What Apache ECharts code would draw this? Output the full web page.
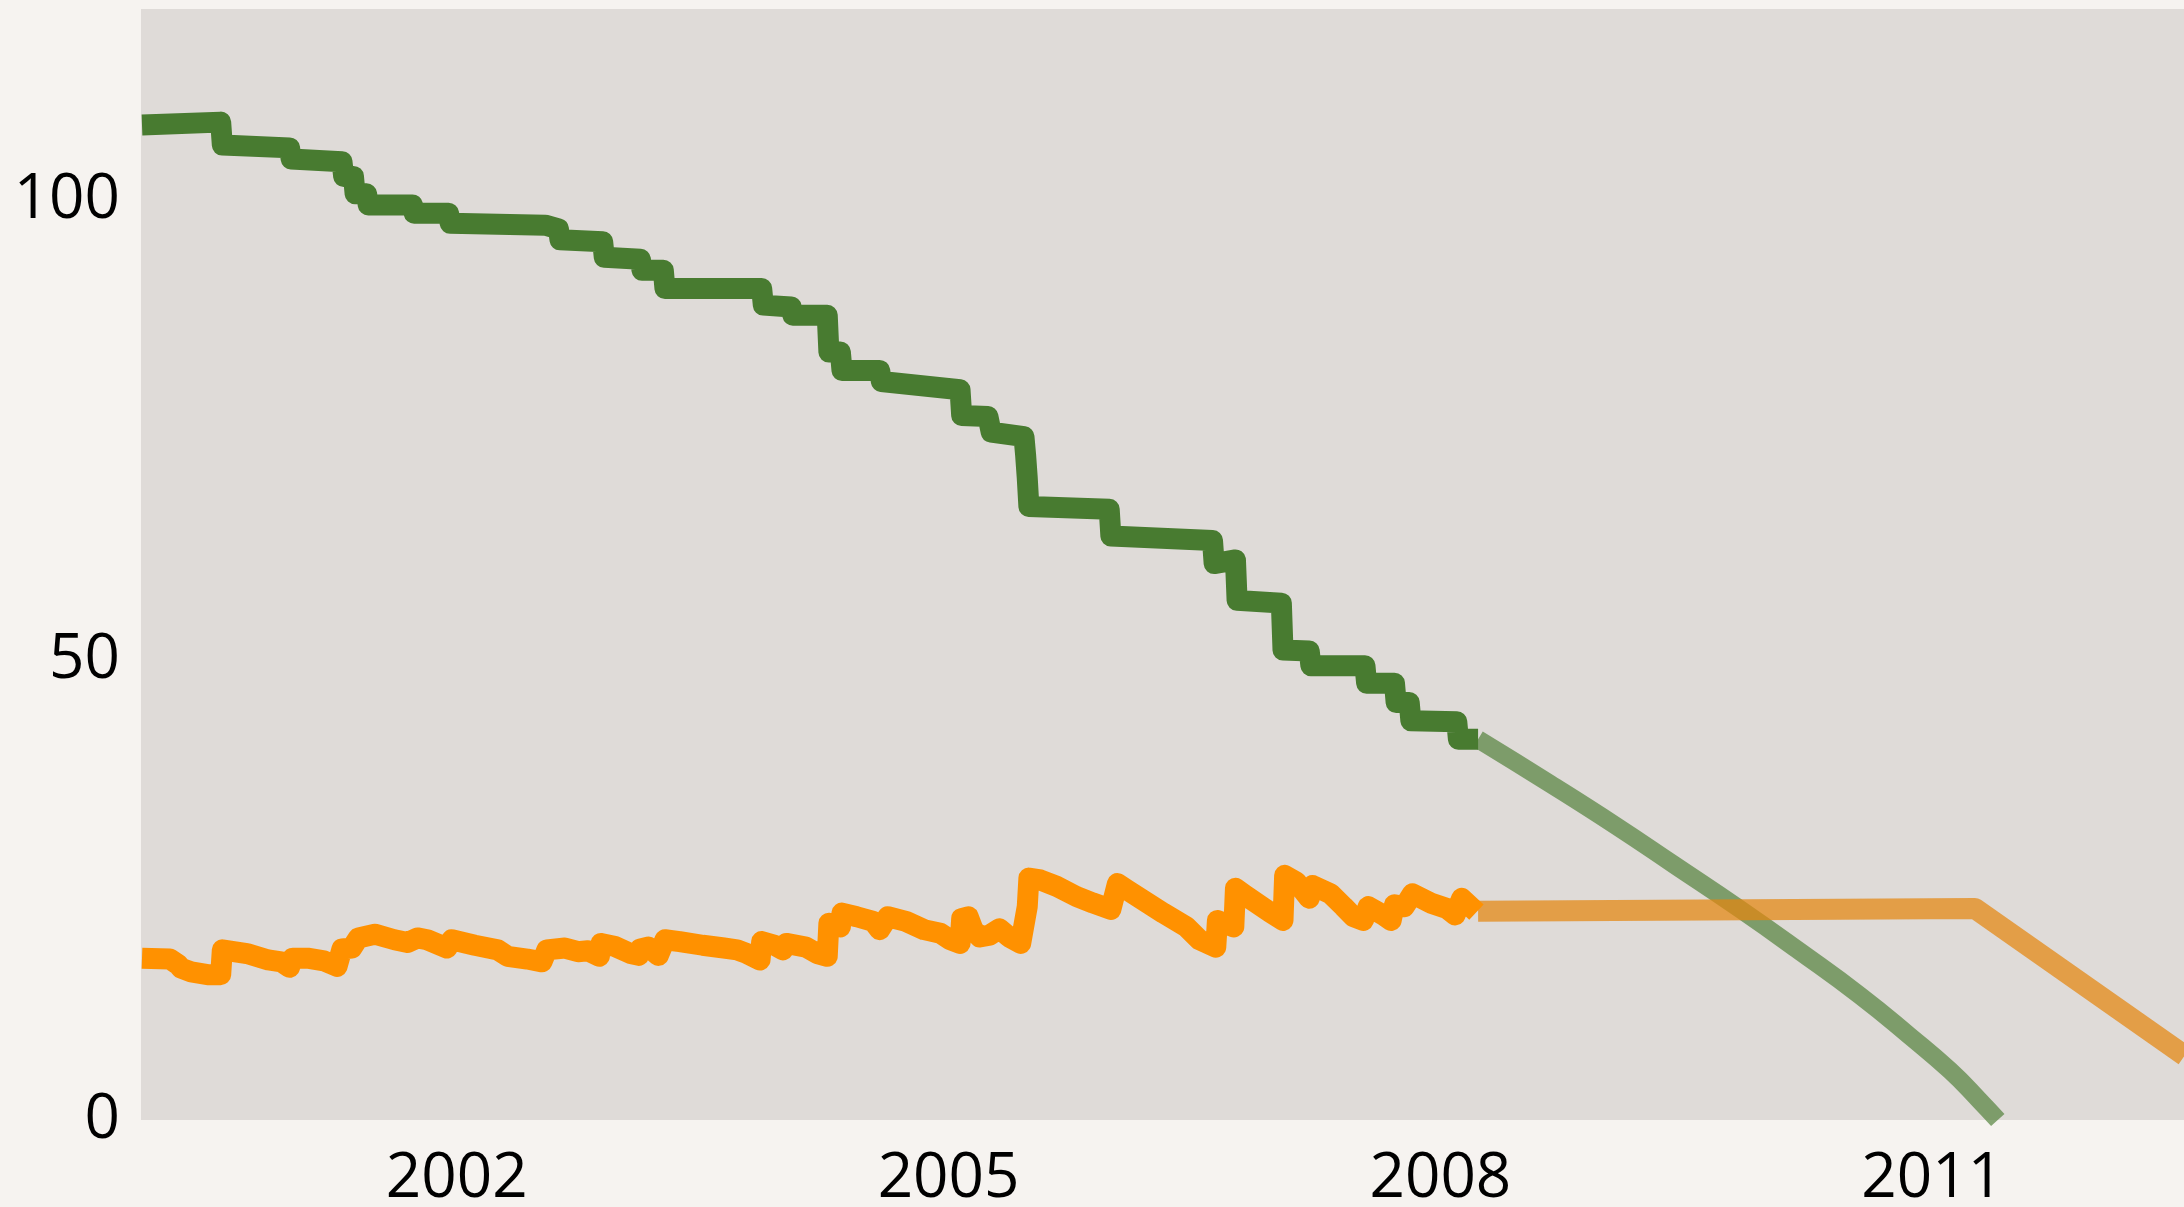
<!DOCTYPE html>
<html lang="en">
<head>
    <meta charset="UTF-8">
    <title>Stock and forecast</title>
    <script src="https://cdn.jsdelivr.net/npm/echarts/dist/echarts.min.js"></script>
    <style>
        html, body{
            margin: 0;
            padding: 0;
            background: #F6F3F0;
        }
        #chart{
            width: 2184px;
            height: 1207px;
        }
    </style>
</head>
<body>
<div id="chart"></div>
<script>
    /*x axis: decimal years*/
    const xMin = 2000.074;
    const xMax = 2012.536;
    const xTicks = [2002, 2005, 2008, 2011];
    const yTicks = [0, 50, 100];

    /*green series, history*/
    const greenYears = [2000.08, 2000.56, 2000.57, 2000.98, 2000.99, 2001.30, 2001.31, 2001.37, 2001.38, 2001.45,
        2001.46, 2001.73, 2001.74, 2001.95, 2001.96, 2002.54, 2002.62, 2002.63, 2002.89, 2002.90,
        2003.12, 2003.13, 2003.26, 2003.27, 2003.86, 2003.87, 2004.04, 2004.05, 2004.26, 2004.27,
        2004.34, 2004.35, 2004.58, 2004.59, 2005.07, 2005.08, 2005.24, 2005.26, 2005.46, 2005.47,
        2005.48, 2005.49, 2005.98, 2005.99, 2006.61, 2006.62, 2006.75, 2006.76, 2007.03, 2007.04,
        2007.20, 2007.21, 2007.54, 2007.55, 2007.72, 2007.73, 2007.81, 2007.82, 2008.10, 2008.11,
        2008.23];
    const greenValues = [108.2, 108.5, 106.0, 105.7, 104.5, 104.2, 102.6, 102.6, 100.7, 100.7,
        99.5, 99.5, 98.6, 98.6, 97.5, 97.3, 96.9, 95.7, 95.5, 93.8,
        93.6, 92.4, 92.4, 90.4, 90.4, 88.6, 88.4, 87.5, 87.5, 83.5,
        83.5, 81.5, 81.5, 80.3, 79.4, 76.6, 76.5, 74.8, 74.3, 72.3,
        69.8, 66.7, 66.4, 63.5, 63.0, 60.5, 60.9, 56.5, 56.2, 51.1,
        51.0, 49.4, 49.4, 47.5, 47.5, 45.4, 45.4, 43.4, 43.3, 41.4,
        41.4];

    /*green series, forecast*/
    const greenForecastYears = [2008.23, 2008.67, 2009.07, 2009.43, 2009.83, 2010.19, 2010.56, 2010.86, 2011.11, 2011.29, 2011.40];
    const greenForecastValues = [41.4, 36.55, 32.0, 27.7, 22.9, 18.36, 13.53, 9.18, 5.36, 2.1, 0];

    /*orange series, history*/
    const orangeYears = [2000.08, 2000.25, 2000.30, 2000.32, 2000.38, 2000.48, 2000.56, 2000.57, 2000.72, 2000.85,
        2000.93, 2000.98, 2001.00, 2001.09, 2001.19, 2001.27, 2001.30, 2001.36, 2001.40, 2001.50,
        2001.62, 2001.70, 2001.76, 2001.82, 2001.94, 2001.97, 2002.11, 2002.25, 2002.31, 2002.43,
        2002.52, 2002.55, 2002.66, 2002.74, 2002.80, 2002.87, 2002.88, 2002.96, 2003.06, 2003.11,
        2003.12, 2003.17, 2003.23, 2003.27, 2003.36, 2003.50, 2003.63, 2003.71, 2003.77, 2003.85,
        2003.86, 2003.94, 2003.99, 2004.01, 2004.13, 2004.20, 2004.26, 2004.27, 2004.34, 2004.35,
        2004.44, 2004.54, 2004.58, 2004.63, 2004.74, 2004.85, 2004.95, 2005.01, 2005.07, 2005.08,
        2005.12, 2005.15, 2005.19, 2005.25, 2005.31, 2005.37, 2005.44, 2005.48, 2005.49, 2005.56,
        2005.66, 2005.78, 2005.88, 2005.99, 2006.03, 2006.09, 2006.31, 2006.45, 2006.53, 2006.63,
        2006.64, 2006.74, 2006.75, 2006.82, 2006.96, 2007.04, 2007.05, 2007.12, 2007.20, 2007.22,
        2007.33, 2007.41, 2007.47, 2007.53, 2007.56, 2007.65, 2007.70, 2007.72, 2007.78, 2007.83,
        2007.94, 2008.04, 2008.09, 2008.13, 2008.22];
    const orangeValues = [17.6, 17.5, 16.9, 16.5, 16.1, 15.8, 15.8, 18.5, 18.1, 17.4,
        17.2, 16.6, 17.6, 17.6, 17.3, 16.7, 18.6, 18.7, 19.8, 20.2,
        19.6, 19.3, 19.8, 19.6, 18.7, 19.6, 19.0, 18.5, 17.8, 17.5,
        17.2, 18.5, 18.7, 18.3, 18.4, 17.8, 19.2, 18.9, 18.1, 17.9,
        18.6, 18.8, 17.9, 19.6, 19.4, 19.0, 18.7, 18.5, 18.1, 17.4,
        19.4, 19.0, 18.5, 19.2, 18.8, 18.1, 17.8, 21.4, 21.0, 22.5,
        22.1, 21.6, 20.7, 22.1, 21.6, 20.7, 20.3, 19.6, 19.2, 21.9,
        22.1, 20.7, 19.9, 20.1, 20.8, 19.9, 19.2, 23.2, 26.3, 26.1,
        25.4, 24.3, 23.6, 22.9, 25.7, 25.0, 22.5, 21.0, 19.6, 18.8,
        21.7, 21.0, 25.2, 24.3, 22.6, 21.7, 26.6, 25.9, 24.1, 25.5,
        24.6, 23.2, 22.1, 21.7, 23.2, 22.3, 21.7, 23.4, 23.2, 24.6,
        23.6, 23.0, 22.3, 24.1, 22.6];

    /*orange series, forecast*/
    const orangeForecastYears = [2008.23, 2011.26, 2012.54];
    const orangeForecastValues = [22.7, 23.0, 7.0];

    function pairs(xs, ys){
        return xs.map((x, i) => [x, ys[i]]);
    }

    const labelFont = {
        color: '#000',
        fontSize: 62,
        fontFamily: "'Open Sans', 'Noto Sans', sans-serif"
    };

    const chart = echarts.init(document.getElementById('chart'));
    const option = {
        animation: false,
        backgroundColor: '#F6F3F0',
        grid: {
            left: 141,
            right: 0,
            top: 9,
            bottom: 87,
            show: true,
            backgroundColor: '#DFDBD8',
            borderWidth: 0,
            containLabel: false,
            outerBoundsMode: 'none'
        },
        xAxis: {
            type: 'value',
            min: xMin,
            max: xMax,
            axisLine: {show: false},
            axisTick: {show: false},
            splitLine: {show: false},
            axisLabel: Object.assign({
                margin: 28,
                customValues: xTicks,
                formatter: (v) => String(Math.round(v))
            }, labelFont)
        },
        yAxis: {
            type: 'value',
            min: 0,
            max: 120.8,
            axisLine: {show: false},
            axisTick: {show: false},
            splitLine: {show: false},
            axisLabel: Object.assign({
                margin: 21,
                customValues: yTicks
            }, labelFont)
        },
        series: [{
            type: 'line',
            data: pairs(greenForecastYears, greenForecastValues),
            showSymbol: false,
            smooth: 0.5,
            lineStyle: {color: '#487B30', width: 18, opacity: 0.65, cap: 'butt', join: 'round'}
        }, {
            type: 'line',
            data: pairs(orangeForecastYears, orangeForecastValues),
            showSymbol: false,
            lineStyle: {color: '#E5870F', width: 21, opacity: 0.72, cap: 'butt', join: 'round'}
        }, {
            type: 'line',
            data: pairs(greenYears, greenValues),
            showSymbol: false,
            lineStyle: {color: '#487B30', width: 21, cap: 'butt', join: 'round'}
        }, {
            type: 'line',
            data: pairs(orangeYears, orangeValues),
            showSymbol: false,
            lineStyle: {color: '#FF9100', width: 21, cap: 'butt', join: 'round'}
        }]
    };
    chart.setOption(option);
</script>
</body>
</html>
